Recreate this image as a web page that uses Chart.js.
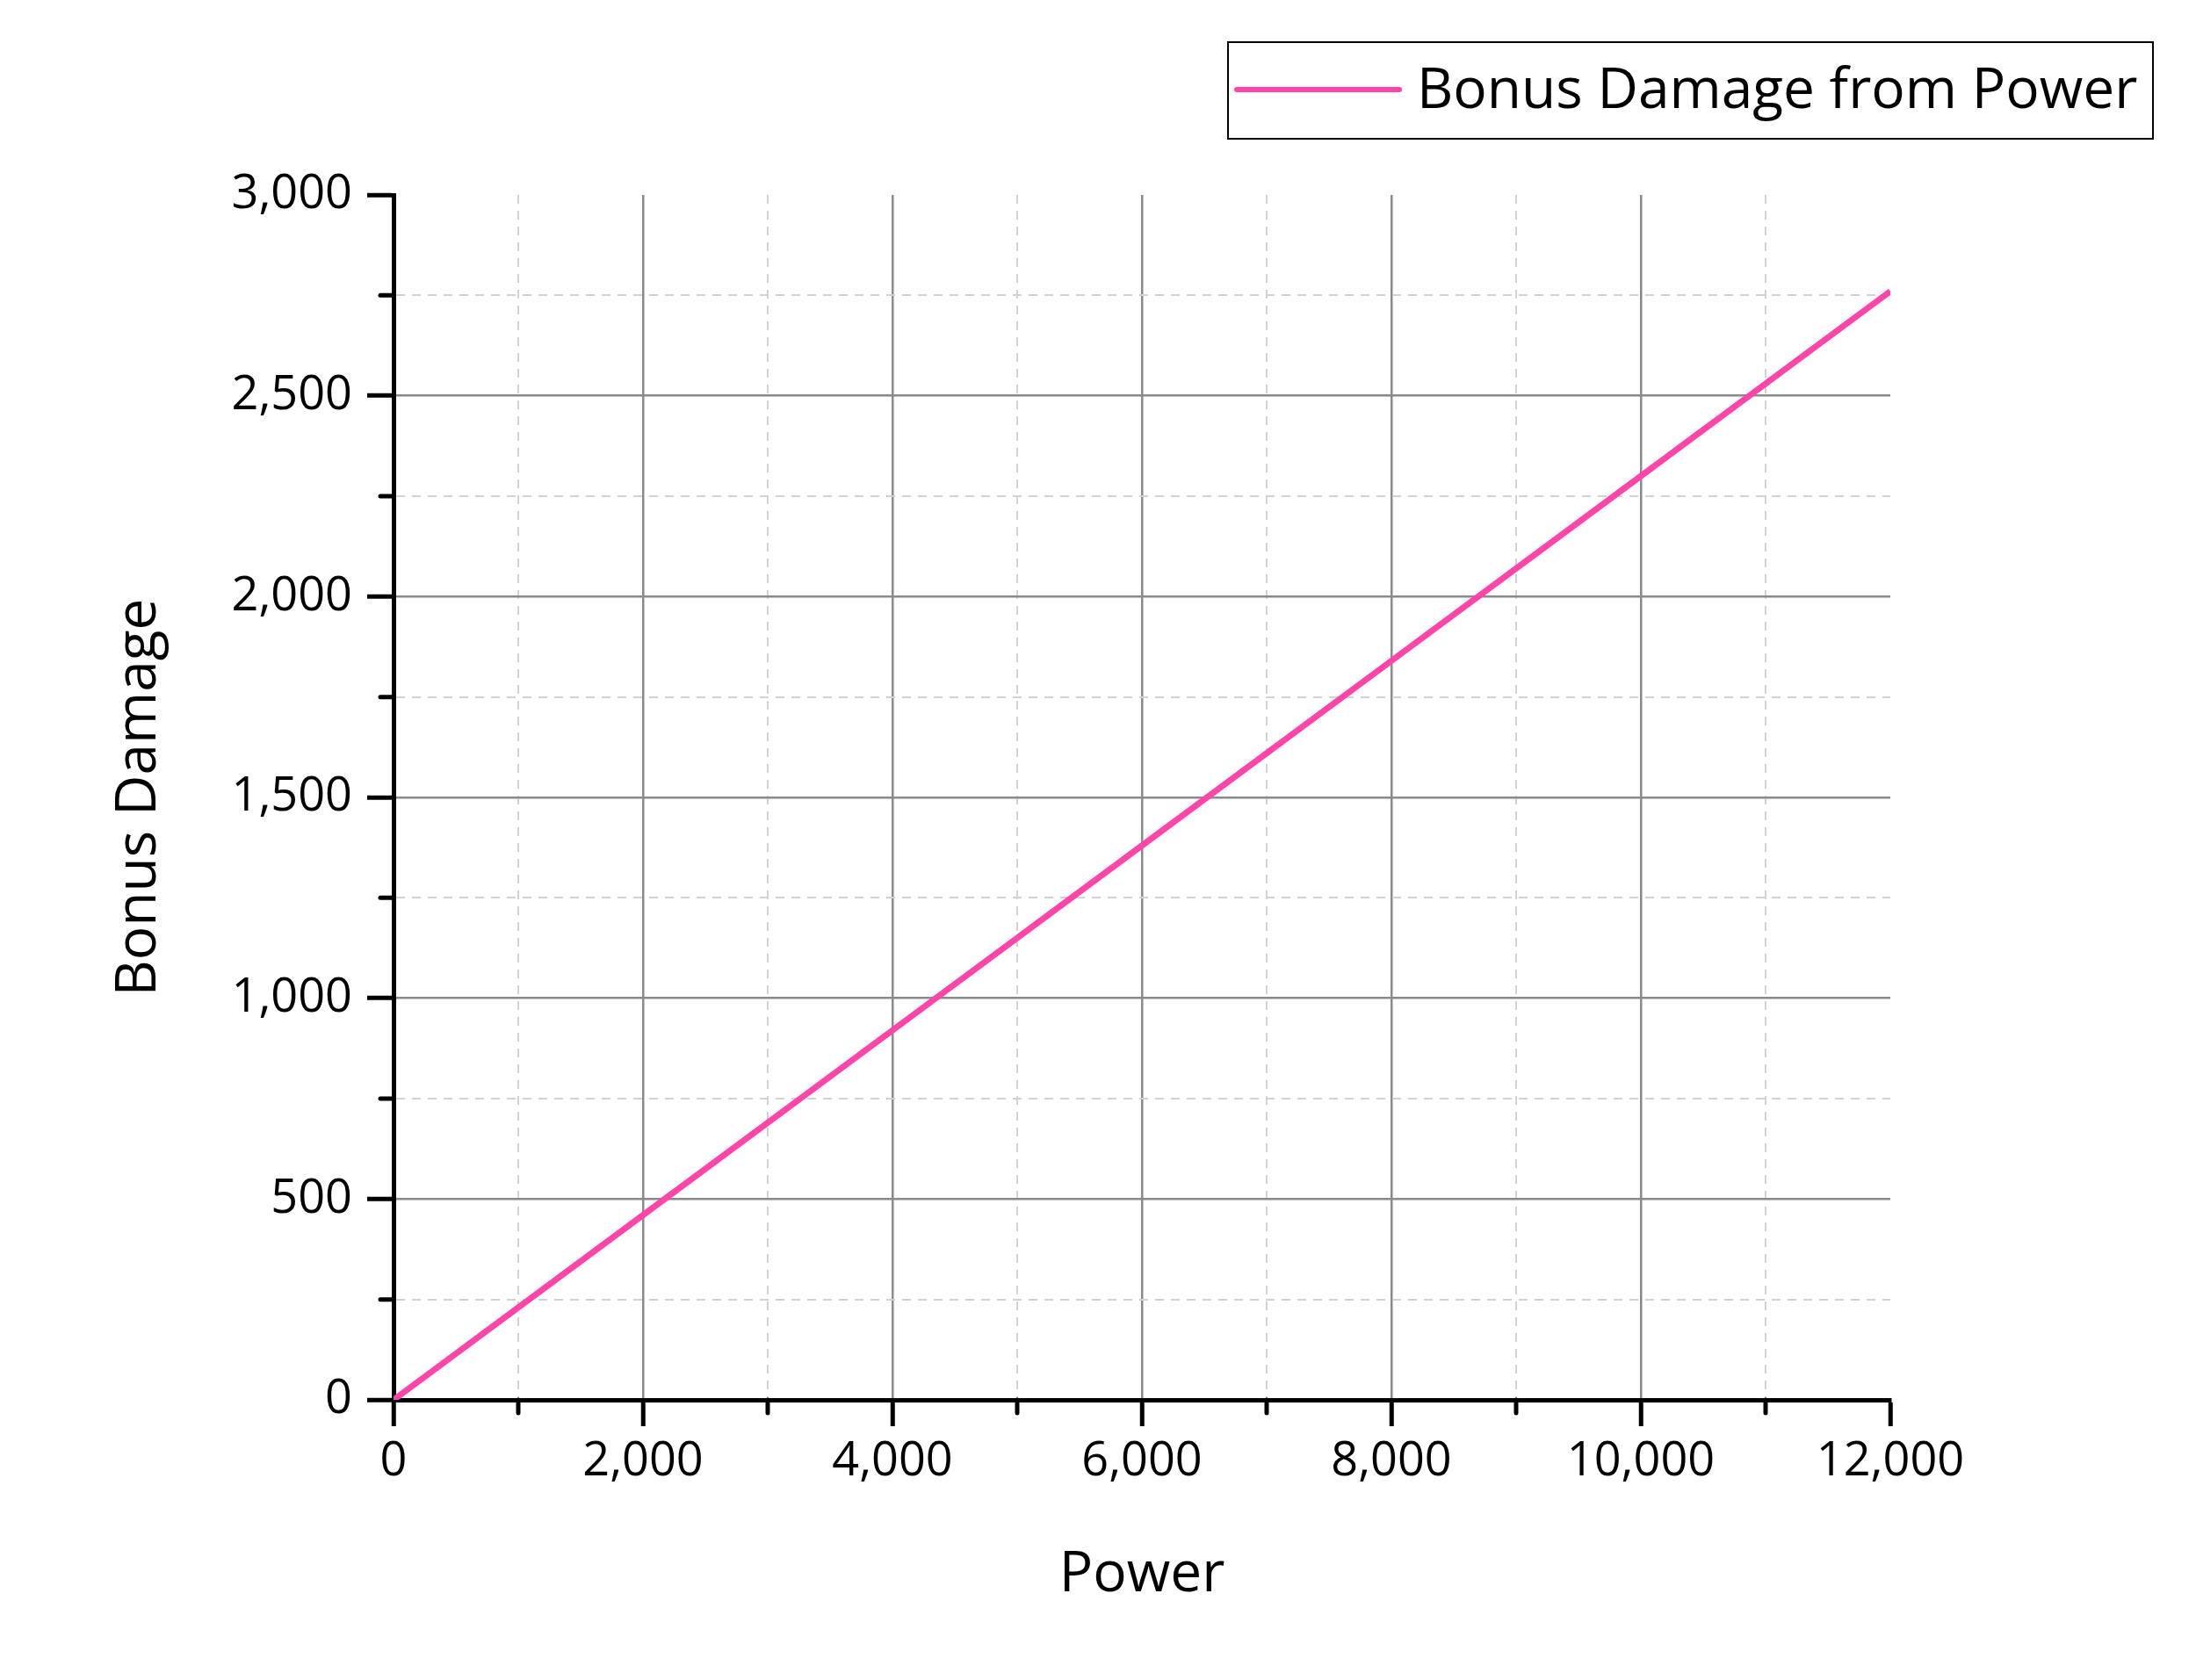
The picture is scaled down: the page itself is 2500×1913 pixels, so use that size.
<!DOCTYPE html>
<html>
<head>
<meta charset="utf-8">
<script src="https://cdn.jsdelivr.net/npm/chart.js@4"></script>
<style>
  html, body { margin: 0; padding: 0; background: #fff; }
  canvas { display: block; }
</style>
</head>
<body>
<canvas id="chart" width="2500" height="1913"></canvas>
<script>
const seriesLabel = 'Bonus Damage from Power';
const powerValues = [0, 2000, 4000, 6000, 8000, 10000, 12000];
const bonusValues = [0, 460, 920, 1380, 1840, 2300, 2760];

const FONT = "'Open Sans', 'Noto Sans', sans-serif";
const LINE_COLOR = 'rgb(255, 68, 170)';

function isMajor(value, step) {
  return value % step === 0;
}

// grid styling shared by both axes: solid major lines, light dashed minor lines
function gridFor(step, max) {
  return {
    color: (c) => {
      const v = c.tick.value;
      if (v === max) return 'rgba(0,0,0,0)';
      return isMajor(v, step) ? '#8a8a8a' : '#d2d2d2';
    },
    lineWidth: (c) => (isMajor(c.tick.value, step) ? 2.5 : 2),
    tickColor: (c) => (isMajor(c.tick.value, step) ? '#000' : 'rgba(0,0,0,0)'),
    tickWidth: 5,
    tickLength: 30,
    drawTicks: true
  };
}

function borderFor(step) {
  return {
    display: true,
    color: '#000',
    width: 5,
    dash: (c) => (isMajor(c.tick.value, step) ? [] : [10, 8])
  };
}

// minor tick marks are shorter than the major ones
const minorTicks = {
  id: 'minorTicks',
  afterDraw(chart) {
    const ctx = chart.ctx;
    const xs = chart.scales.x;
    const ys = chart.scales.y;
    ctx.save();
    ctx.strokeStyle = '#000';
    ctx.lineWidth = 5;
    ctx.lineCap = 'round';
    xs.ticks.forEach((t) => {
      if (isMajor(t.value, 2000)) return;
      const px = xs.getPixelForValue(t.value);
      ctx.beginPath();
      ctx.moveTo(px, xs.top);
      ctx.lineTo(px, xs.top + 15);
      ctx.stroke();
    });
    ys.ticks.forEach((t) => {
      if (isMajor(t.value, 500)) return;
      const py = ys.getPixelForValue(t.value);
      ctx.beginPath();
      ctx.moveTo(ys.right, py);
      ctx.lineTo(ys.right - 15, py);
      ctx.stroke();
    });
    ctx.restore();
  }
};

// boxed legend in the top right corner
const boxLegend = {
  id: 'boxLegend',
  afterDraw(chart) {
    const ctx = chart.ctx;
    const ds = chart.data.datasets[0];
    ctx.save();
    ctx.strokeStyle = '#000';
    ctx.lineWidth = 2;
    ctx.strokeRect(1398, 48, 1053, 110);
    ctx.strokeStyle = ds.borderColor;
    ctx.lineWidth = 6;
    ctx.lineCap = 'round';
    ctx.beginPath();
    ctx.moveTo(1408, 102);
    ctx.lineTo(1593, 102);
    ctx.stroke();
    ctx.fillStyle = '#000';
    ctx.font = '64px ' + FONT;
    ctx.textBaseline = 'middle';
    ctx.textAlign = 'left';
    ctx.fillText(ds.label, 1613, 105);
    ctx.restore();
  }
};

new Chart(document.getElementById('chart'), {
  type: 'line',
  data: {
    datasets: [
      {
        label: seriesLabel,
        data: powerValues.map((p, i) => ({ x: p, y: bonusValues[i] })),
        borderColor: LINE_COLOR,
        backgroundColor: LINE_COLOR,
        borderWidth: 7,
        pointRadius: 0,
        tension: 0,
        fill: false
      }
    ]
  },
  options: {
    responsive: false,
    animation: false,
    devicePixelRatio: 1,
    layout: {
      padding: { top: 222, right: 348, left: 0, bottom: 0 }
    },
    scales: {
      x: {
        type: 'linear',
        min: 0,
        max: 12000,
        afterFit: (s) => { s.height = 319; },
        ticks: {
          stepSize: 1000,
          autoSkip: false,
          maxRotation: 0,
          padding: 8,
          color: '#000',
          font: { family: FONT, size: 54 },
          callback: (v) => (isMajor(v, 2000) ? v.toLocaleString('en-US') : '')
        },
        grid: gridFor(2000, 12000),
        border: borderFor(2000),
        title: {
          display: true,
          text: 'Power',
          color: '#000',
          font: { family: FONT, size: 64, lineHeight: 1 },
          padding: { top: 0, bottom: 87 }
        }
      },
      y: {
        type: 'linear',
        min: 0,
        max: 3000,
        afterFit: (s) => { s.width = 448; },
        ticks: {
          stepSize: 250,
          autoSkip: false,
          padding: 17,
          color: '#000',
          font: { family: FONT, size: 54 },
          callback: (v) => (isMajor(v, 500) ? v.toLocaleString('en-US') : '')
        },
        grid: gridFor(500, 3000),
        border: borderFor(500),
        title: {
          display: true,
          text: 'Bonus Damage',
          color: '#000',
          font: { family: FONT, size: 64, lineHeight: 1 },
          padding: { top: 127, bottom: 0 }
        }
      }
    },
    plugins: {
      legend: { display: false },
      tooltip: { enabled: false }
    }
  },
  plugins: [minorTicks, boxLegend]
});
</script>
</body>
</html>
